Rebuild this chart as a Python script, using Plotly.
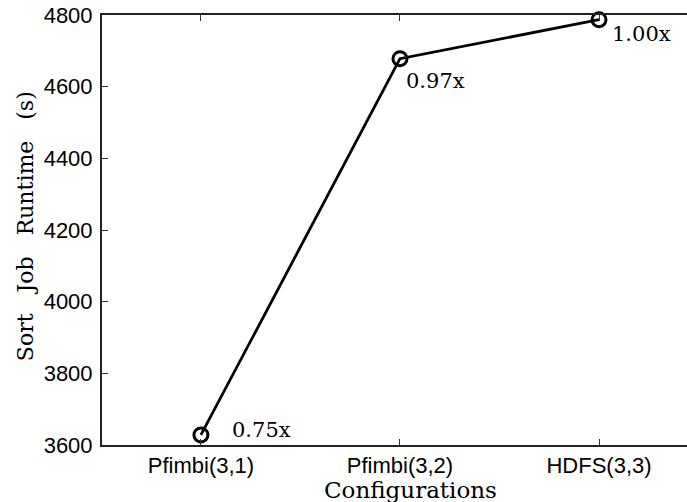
import plotly.graph_objects as go

categories = ["Pfimbi(3,1)", "Pfimbi(3,2)", "HDFS(3,3)"]
runtimes = [3628, 4678, 4787]
speedups = ["0.75x", "0.97x", "1.00x"]
y_ticks = [3600, 3800, 4000, 4200, 4400, 4600, 4800]

serif = "DejaVu Serif, Liberation Serif, serif"
sans = "Liberation Sans, Arial, sans-serif"

fig = go.Figure()
fig.add_trace(go.Scatter(
    x=[0, 1, 2], y=runtimes, mode="lines+markers",
    line=dict(color="black", width=2.8),
    marker=dict(symbol="circle-open", size=14, color="black", line=dict(width=3)),
    showlegend=False, cliponaxis=False,
))

offsets = [(29, 5), (4, -22), (11, -14)]
for i, (lab, (dx, dy)) in enumerate(zip(speedups, offsets)):
    fig.add_annotation(x=i, y=runtimes[i], text=lab, showarrow=False,
                       xanchor="left", yanchor="middle", xshift=dx, yshift=dy,
                       font=dict(family=serif, size=21, color="black"))

fig.add_annotation(xref="paper", yref="paper", x=-0.1316, y=0.509,
                   text="Sort\u00a0\u00a0\u00a0Job\u00a0\u00a0\u00a0Runtime\u00a0\u00a0\u00a0(s)",
                   textangle=-90, showarrow=False, xanchor="center", yanchor="middle",
                   font=dict(family=serif, size=22, color="black"))
fig.add_annotation(xref="paper", yref="paper", x=0.5265, y=-0.105, text="Configurations",
                   showarrow=False, xanchor="center", yanchor="middle",
                   font=dict(family=serif, size=23, color="black"))

fig.update_layout(
    width=687, height=502,
    margin=dict(l=102, r=0, t=15, b=57),
    paper_bgcolor="white", plot_bgcolor="white",
    xaxis=dict(range=[-0.497, 2.442], tickvals=[0, 1, 2], ticktext=categories,
               showgrid=False, zeroline=False, showline=True, linecolor="#222", linewidth=2,
               mirror="ticks", ticks="inside", ticklen=6, tickcolor="#333", tickwidth=1,
               tickfont=dict(family=sans, size=22, color="black")),
    yaxis=dict(range=[3600, 4800], tickvals=y_ticks,
               showgrid=False, zeroline=False, showline=True, linecolor="#222", linewidth=2,
               ticks="inside", ticklen=6, tickcolor="#333", tickwidth=1, ticklabelstandoff=3,
               tickfont=dict(family=sans, size=22, color="black")),
)

fig.write_html("out.html")
